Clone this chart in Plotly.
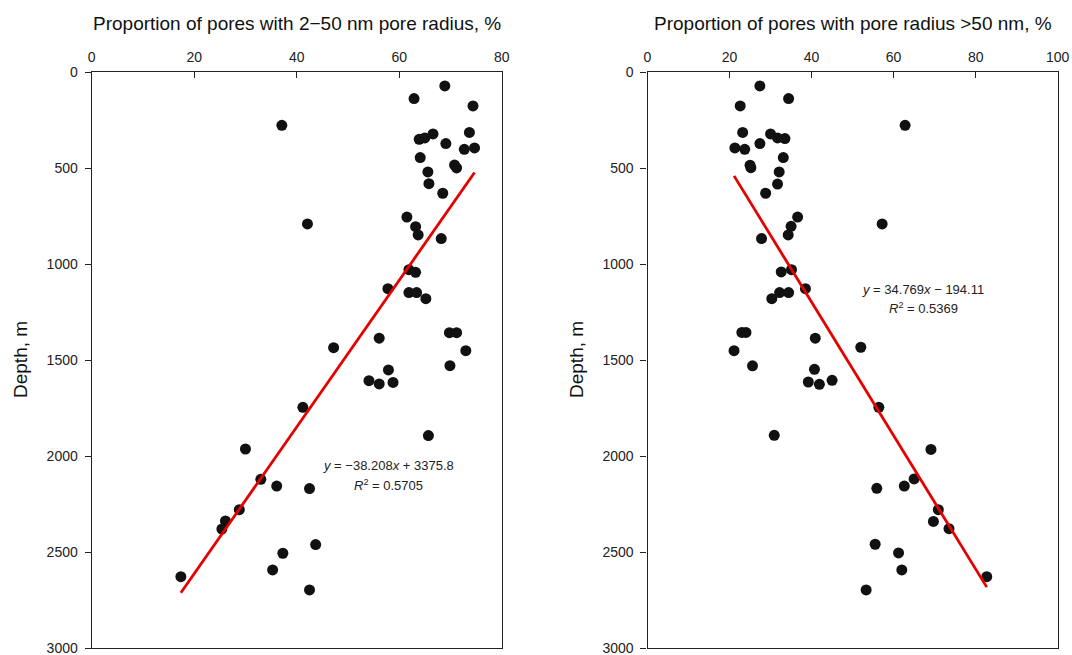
import plotly.graph_objects as go

# ---------------- data ----------------
# Left panel: proportion of pores with 2-50 nm radius (%) vs depth (m)
meso_pct = [68.9, 62.9, 74.4, 37.1, 73.7, 63.9, 65.0, 66.6, 69.1, 72.7,
            74.7, 64.1, 70.8, 71.2, 65.6, 65.8, 68.5, 42.1, 61.5, 63.2,
            63.7, 68.2, 61.9, 63.2, 57.8, 61.9, 63.4, 65.2, 56.1, 69.8,
            71.2, 73.0, 47.2, 69.9, 57.9, 54.1, 56.1, 58.8, 41.2, 65.7,
            30.0, 33.0, 36.1, 42.5, 28.8, 26.1, 25.4, 43.7, 37.3, 35.3,
            17.4, 42.5]
meso_depth = [71, 137, 175, 276, 313, 349, 342, 321, 371, 401,
              394, 444, 483, 498, 519, 580, 630, 790, 754, 804,
              847, 866, 1028, 1042, 1127, 1147, 1147, 1179, 1385, 1356,
              1356, 1450, 1434, 1528, 1550, 1606, 1623, 1615, 1745, 1892,
              1962, 2120, 2155, 2168, 2278, 2337, 2379, 2460, 2505, 2592,
              2627, 2696]

# Right panel: proportion of pores with radius >50 nm (%) vs depth (m)
macro_pct = [27.4, 34.4, 22.6, 62.8, 23.2, 30.0, 31.7, 33.5, 27.4, 21.3,
             23.7, 33.1, 25.0, 25.2, 32.1, 31.7, 28.8, 36.6, 57.2, 35.0,
             34.3, 27.8, 35.1, 32.6, 38.5, 32.2, 34.4, 30.3, 23.0, 24.0,
             40.9, 52.0, 21.1, 25.6, 40.7, 39.2, 41.9, 45.0, 56.4, 30.9,
             69.1, 65.0, 62.6, 55.9, 70.9, 69.7, 73.5, 55.5, 61.2, 62.0,
             82.7, 53.3]
macro_depth = [71, 137, 175, 276, 313, 321, 342, 345, 371, 394,
               401, 444, 484, 497, 519, 582, 630, 754, 790, 802,
               847, 866, 1028, 1040, 1127, 1147, 1147, 1179, 1355, 1355,
               1385, 1432, 1450, 1529, 1547, 1613, 1625, 1604, 1745, 1891,
               1964, 2118, 2155, 2167, 2278, 2339, 2377, 2458, 2503, 2592,
               2627, 2696]

# Linear trendlines (depth = slope * pct + intercept)
meso_slope, meso_intercept, meso_r2 = -38.208, 3375.8, 0.5705
macro_slope, macro_intercept, macro_r2 = 34.769, -194.11, 0.5369

left_title = "Proportion of pores with 2\u221250 nm pore radius, %"
right_title = "Proportion of pores with pore radius >50 nm, %"
y_title = "Depth, m"
left_xticks = [0, 20, 40, 60, 80]
right_xticks = [0, 20, 40, 60, 80, 100]
depth_ticks = [0, 500, 1000, 1500, 2000, 2500, 3000]

# ---------------- figure ----------------
W, H = 1072, 655
FONT = "Arial, 'Liberation Sans', sans-serif"
DOT = "#111111"
RED = "rgb(230,0,0)"

fig = go.Figure()

fig.add_trace(go.Scatter(x=meso_pct, y=meso_depth, mode="markers",
                         marker=dict(size=11, color=DOT),
                         xaxis="x", yaxis="y", showlegend=False))
lx = [min(meso_pct), max(meso_pct)]
fig.add_trace(go.Scatter(x=lx, y=[meso_slope * v + meso_intercept for v in lx],
                         mode="lines", line=dict(color=RED, width=2.8),
                         xaxis="x", yaxis="y", showlegend=False))

fig.add_trace(go.Scatter(x=macro_pct, y=macro_depth, mode="markers",
                         marker=dict(size=11, color=DOT),
                         xaxis="x2", yaxis="y2", showlegend=False))
rx = [min(macro_pct), max(macro_pct)]
fig.add_trace(go.Scatter(x=rx, y=[macro_slope * v + macro_intercept for v in rx],
                         mode="lines", line=dict(color=RED, width=2.8),
                         xaxis="x2", yaxis="y2", showlegend=False))

def px_x(p):
    return p / W

def px_y(p):
    return 1 - p / H

ydom = [px_y(648.3), px_y(72.3)]

common_x = dict(side="top", ticks="inside", ticklen=6, tickwidth=1.2,
                tickcolor="#222", showline=True, linecolor="#222",
                linewidth=1.3, mirror=True, showgrid=False, zeroline=False,
                automargin=False, ticklabeloverflow="allow",
                tickfont=dict(family=FONT, size=14, color="#222"),
                ticklabelstandoff=4)
common_y = dict(autorange=False, range=[3000, 0], tickvals=depth_ticks,
                ticks="outside", ticklen=6, tickwidth=1.2, tickcolor="#222",
                showline=True, linecolor="#222", linewidth=1.3, mirror=True,
                showgrid=False, zeroline=False, automargin=False,
                ticklabeloverflow="allow",
                tickfont=dict(family=FONT, size=14, color="#222"),
                ticklabelstandoff=4)

fig.update_layout(
    width=W, height=H, autosize=False,
    margin=dict(l=0, r=0, t=0, b=0, pad=0, autoexpand=False),
    paper_bgcolor="white", plot_bgcolor="white",
    font=dict(family=FONT, color="#222"),
    xaxis=dict(domain=[px_x(91.7), px_x(501.7)], range=[0, 80],
               tickvals=left_xticks, anchor="y", **common_x),
    yaxis=dict(domain=ydom, anchor="x", **common_y),
    xaxis2=dict(domain=[px_x(647.5), px_x(1057.7)], range=[0, 100],
                tickvals=right_xticks, anchor="y2", **common_x),
    yaxis2=dict(domain=ydom, anchor="x2", **common_y),
)

anns = [
    dict(text=left_title, x=px_x(296.7), y=px_y(23.5), xref="paper", yref="paper",
         showarrow=False, xanchor="center", yanchor="middle",
         font=dict(family=FONT, size=19, color="#111")),
    dict(text=right_title, x=px_x(852.6), y=px_y(23.5), xref="paper", yref="paper",
         showarrow=False, xanchor="center", yanchor="middle",
         font=dict(family=FONT, size=19, color="#111")),
    dict(text=y_title, x=px_x(20), y=px_y(360), xref="paper", yref="paper",
         showarrow=False, textangle=-90, xanchor="center", yanchor="middle",
         font=dict(family=FONT, size=19, color="#111")),
    dict(text=y_title, x=px_x(576), y=px_y(360), xref="paper", yref="paper",
         showarrow=False, textangle=-90, xanchor="center", yanchor="middle",
         font=dict(family=FONT, size=19, color="#111")),
    dict(text="<i>y</i> = \u2212%.3f<i>x</i> + %.1f" % (abs(meso_slope), meso_intercept),
         x=px_x(388.7), y=px_y(465.7), xref="paper", yref="paper",
         showarrow=False, xanchor="center", yanchor="middle",
         font=dict(family=FONT, size=13, color="#222")),
    dict(text="<i>R</i><sup>2</sup> = %.4f" % meso_r2,
         x=px_x(388.7), y=px_y(485), xref="paper", yref="paper",
         showarrow=False, xanchor="center", yanchor="middle",
         font=dict(family=FONT, size=13, color="#222")),
    dict(text="<i>y</i> = %.3f<i>x</i> \u2212 %.2f" % (macro_slope, abs(macro_intercept)),
         x=px_x(922.5), y=px_y(289), xref="paper", yref="paper",
         showarrow=False, xanchor="center", yanchor="middle",
         font=dict(family=FONT, size=13, color="#222")),
    dict(text="<i>R</i><sup>2</sup> = %.4f" % macro_r2,
         x=px_x(923.7), y=px_y(307.7), xref="paper", yref="paper",
         showarrow=False, xanchor="center", yanchor="middle",
         font=dict(family=FONT, size=13, color="#222")),
]
fig.update_layout(annotations=anns)

fig.write_html("out.html",
               config={"displayModeBar": False},
               post_script="document.body.style.margin='0';document.body.style.overflow='hidden';")
